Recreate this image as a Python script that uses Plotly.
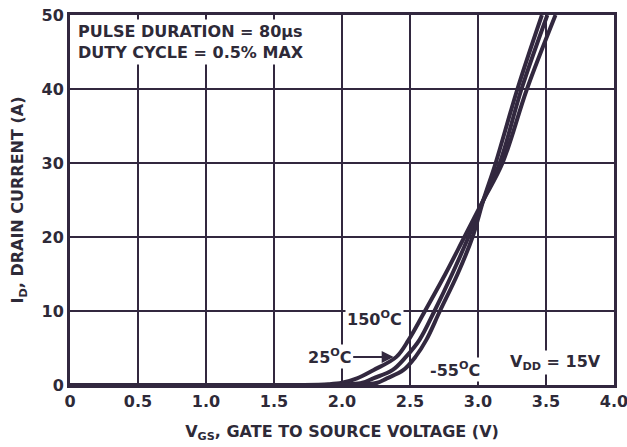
import plotly.graph_objects as go

# Data (V_GS in volts, I_D in amperes)
i_pts = [0, 0, 0.1, 0.3, 0.9, 2.0, 3.8, 6.1, 10, 15, 20, 25, 30, 40, 50]
v_150 = [0, 1.7, 1.9, 2.0, 2.11, 2.23, 2.40, 2.49, 2.61, 2.76, 2.90, 3.04, 3.18, 3.36, 3.57]
v_25 = [0, 1.85, 2.05, 2.15, 2.23, 2.37, 2.47, 2.57, 2.68, 2.81, 2.93, 3.04, 3.16, 3.32, 3.51]
v_m55 = [0, 2.0, 2.18, 2.26, 2.33, 2.45, 2.54, 2.62, 2.72, 2.85, 2.96, 3.04, 3.13, 3.29, 3.47]

x_ticks = [0, 0.5, 1.0, 1.5, 2.0, 2.5, 3.0, 3.5, 4.0]
x_labels = ["0", "0.5", "1.0", "1.5", "2.0", "2.5", "3.0", "3.5", "4.0"]
y_ticks = [0, 10, 20, 30, 40, 50]

LINE = "#32283f"
TXT = "#2e2a38"
FONT = "DejaVu Sans, Liberation Sans, Arial, sans-serif"
fnt = dict(family=FONT, size=16, color=TXT, weight="bold")

fig = go.Figure()
for v, name in [(v_150, "150°C"), (v_25, "25°C"), (v_m55, "-55°C")]:
    fig.add_trace(go.Scatter(x=v, y=i_pts, mode="lines", name=name,
                             line=dict(color=LINE, width=4, shape="spline", smoothing=1.0),
                             showlegend=False, cliponaxis=False))

fig.update_layout(
    width=627, height=447,
    margin=dict(l=70, r=13, t=15, b=62),
    paper_bgcolor="white", plot_bgcolor="white",
    font=fnt,
    xaxis=dict(range=[0, 4], tickvals=x_ticks, ticktext=x_labels, automargin=False,
               ticklabeloverflow="allow",
               showgrid=True, gridcolor=LINE, gridwidth=2,
               showline=True, linecolor=LINE, linewidth=3, mirror=True,
               zeroline=False, ticks="", ticklen=0, tickfont=fnt,
               title=dict(text="V<sub>GS</sub>, GATE TO SOURCE VOLTAGE (V)", font=fnt,
                          standoff=16)),
    yaxis=dict(range=[0, 50], tickvals=y_ticks, automargin=False,
               ticklabeloverflow="allow",
               showgrid=True, gridcolor=LINE, gridwidth=2,
               showline=True, linecolor=LINE, linewidth=3, mirror=True,
               zeroline=False, ticks="", ticklen=0, tickfont=fnt,
               title=dict(text="I<sub>D</sub>, DRAIN CURRENT (A)", font=fnt,
                          standoff=14)),
)

fig.add_annotation(x=0.04, y=49.4, xref="x", yref="y", xanchor="left", yanchor="top",
                   text="PULSE DURATION = 80µs<br>DUTY CYCLE = 0.5% MAX", align="left",
                   showarrow=False, bgcolor="white", font=fnt, borderpad=2)
fig.add_annotation(x=2.24, y=9.05, text="150<sup>O</sup>C", showarrow=False,
                   bgcolor="white", font=fnt, xanchor="center", yanchor="middle")
fig.add_annotation(x=2.38, y=3.8, ax=-64, ay=0, text="25<sup>O</sup>C", showarrow=True,
                   arrowhead=2, arrowsize=1.2, arrowwidth=2, arrowcolor=LINE,
                   bgcolor="white", font=fnt)
fig.add_annotation(x=2.83, y=2.16, text="-55<sup>O</sup>C", showarrow=False,
                   bgcolor="white", font=fnt, xanchor="center", yanchor="middle")
fig.add_annotation(x=3.57, y=3.1, text="V<sub>DD</sub> = 15V", showarrow=False,
                   bgcolor="white", font=fnt, xanchor="center", yanchor="middle")

fig.write_html("out.html", config={"displayModeBar": False},
               post_script="document.body.style.margin='0px';")
